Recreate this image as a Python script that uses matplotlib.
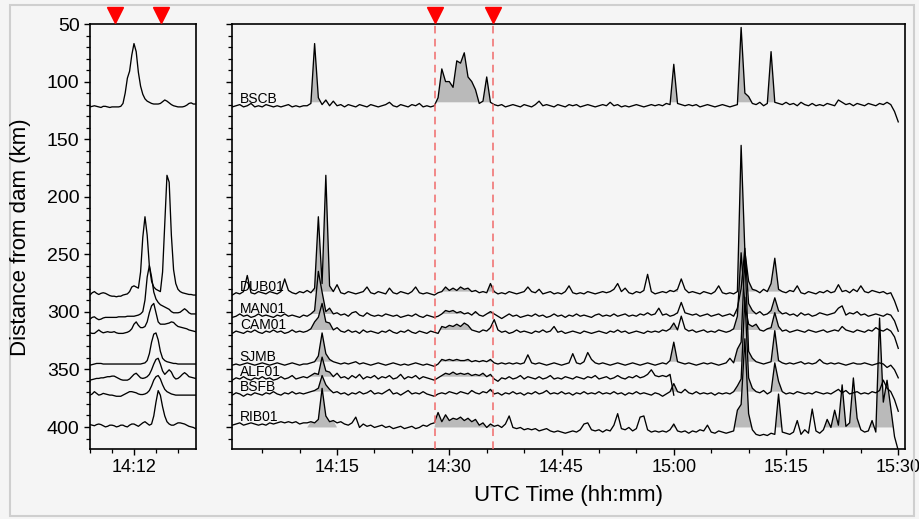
import numpy as np
import matplotlib
matplotlib.use("Agg")
import matplotlib.pyplot as plt
import matplotlib.transforms as mtransforms
from matplotlib.patches import Rectangle
from matplotlib.ticker import MultipleLocator, FixedLocator, FuncFormatter

plt.rcParams['font.family'] = ['Liberation Sans', 'DejaVu Sans']

# stations and their distance from the dam (km)
stations = ['BSCB', 'DUB01', 'MAN01', 'CAM01', 'SJMB', 'ALF01', 'BSFB', 'RIB01']
distances = [122.0, 285.4, 304.8, 318.7, 346.3, 359.3, 372.3, 398.4]

# envelope amplitude (km above the station line), every 0.5 min from 14:01
bscb = [0,1,2,0,1,3,0,1,0,2,1,0,1,0,1,2,0,1,0,1,
        1,3,55,8,2,6,1,5,1,2,0,2,1,0,2,1,0,2,1,0,
        1,2,4,1,0,2,1,0,2,1,3,0,1,0,1,8,33,22,22,17,
        40,38,47,26,22,15,3,5,26,4,2,1,2,0,1,2,1,0,2,1,
        0,2,5,1,2,1,0,2,1,0,2,1,2,0,1,2,1,0,1,2,
        1,4,1,2,0,1,0,1,2,1,0,1,2,1,2,1,3,2,37,3,
        2,1,2,1,2,0,1,2,1,0,1,2,1,0,1,2,69,12,9,3,
        2,4,1,3,48,4,3,2,4,2,3,1,4,2,1,3,1,2,1,3,
        2,1,6,4,2,3,1,3,2,1,3,2,1,3,2,4,2,-4,-13]
dub01 = [0,2,1,3,17,2,1,3,2,1,3,2,1,3,14,4,2,1,3,2,
         4,2,6,68,10,104,8,3,9,2,1,3,2,1,2,3,7,2,1,3,
         2,1,6,2,1,3,2,1,3,7,2,1,2,1,0,2,3,7,4,6,
         4,7,5,6,3,4,2,3,2,10,3,1,2,1,3,2,1,2,3,7,
         3,2,5,1,2,3,1,2,1,3,8,2,1,2,1,3,2,1,2,3,
         2,3,5,10,3,6,2,1,3,2,4,18,3,1,2,3,2,4,3,5,
         14,5,2,3,2,1,3,2,1,3,8,2,1,2,1,3,130,38,12,5,
         4,2,5,3,10,32,5,3,2,4,3,8,2,1,3,2,1,3,2,4,
         2,3,9,3,4,2,5,3,8,3,2,4,3,2,3,1,2,-5,-14]
man01 = [0,1,3,1,2,0,1,3,1,2,1,0,2,1,3,1,2,1,0,2,
         1,3,6,40,22,5,8,3,4,2,3,1,4,5,2,1,4,2,1,2,
         1,3,2,1,2,0,1,2,1,3,1,0,2,1,0,1,3,6,5,6,
         4,5,3,4,2,5,2,1,3,5,3,1,-1,1,3,1,2,0,1,2,
         1,3,1,2,0,1,3,1,2,0,2,1,3,1,2,1,0,2,3,1,
         2,1,3,1,2,3,1,2,1,3,2,4,2,3,8,2,3,1,2,4,
         13,4,3,2,3,1,2,3,1,2,3,1,2,3,1,8,25,60,12,6,
         3,5,2,3,6,17,6,3,4,2,3,1,4,2,3,1,2,4,3,2,
         3,4,8,10,2,4,3,5,2,3,1,2,3,2,1,3,2,-3,-12]
cam01 = [0,2,1,0,2,1,3,1,0,2,1,3,1,2,0,1,3,1,2,1,
         2,4,10,14,26,10,9,3,5,2,1,3,1,2,0,3,1,2,1,0,
         2,1,3,1,0,2,1,3,1,0,2,1,0,2,1,0,6,5,7,6,
         8,6,9,7,3,2,1,3,2,5,12,3,1,2,0,1,3,1,2,1,
         0,2,1,3,1,2,6,1,2,0,1,2,1,0,2,1,0,1,2,1,
         0,2,1,3,1,2,0,1,2,1,0,2,1,2,1,3,2,4,9,3,
         15,4,2,3,1,2,3,1,2,1,3,2,1,2,4,15,70,25,8,6,
         8,3,2,4,5,18,6,2,3,1,2,3,2,1,3,2,1,2,3,1,
         2,3,2,6,3,2,1,3,2,1,3,2,5,3,2,4,2,-3,-13]
sjmb = [0,1,0,1,2,1,0,1,2,1,0,1,2,1,0,1,2,1,0,1,
        1,2,3,8,28,10,5,3,2,1,2,1,2,3,1,2,1,0,1,2,
        1,0,1,2,1,0,1,0,1,2,1,0,1,0,-1,1,5,4,5,4,
        5,4,4,5,3,4,3,4,3,5,2,1,2,1,2,1,2,1,2,9,
        2,1,2,1,0,1,2,1,0,1,2,10,2,1,3,11,5,2,1,2,
        1,0,1,2,1,0,1,2,1,0,1,2,1,0,1,2,1,4,20,3,
        2,1,2,1,0,1,2,1,2,1,0,1,2,6,2,14,20,95,12,6,
        3,2,1,2,3,30,4,2,1,2,1,2,3,1,2,1,2,5,2,1,
        2,1,2,1,0,1,2,1,1,2,1,0,1,2,1,-2,0,-4,-11]
alf01 = [0,2,1,3,1,0,2,1,3,1,2,0,1,3,1,2,4,1,2,3,
         2,4,6,5,20,8,7,3,6,2,3,1,4,2,5,1,3,2,4,1,
         3,2,4,1,2,5,1,3,2,4,1,3,2,1,0,2,4,6,5,7,
         5,6,5,6,4,5,4,6,3,5,1,-1,2,1,3,1,2,4,1,3,
         2,1,3,1,2,4,1,2,1,3,2,1,3,2,1,3,2,4,1,2,
         3,1,2,4,2,1,3,2,4,2,3,5,9,4,3,4,3,5,-13]
bsfb = [0,2,1,-1,1,0,2,1,0,2,1,3,1,0,2,1,3,1,2,1,
        2,3,4,6,17,9,5,2,3,1,2,0,2,1,3,1,2,4,1,2,
        1,3,5,1,2,0,2,4,1,2,1,3,1,0,-1,1,2,1,3,2,
        1,3,2,1,4,2,1,3,2,5,1,2,0,2,1,3,1,2,0,2,
        1,3,1,2,4,1,2,1,3,1,2,0,2,1,3,1,2,1,3,1,
        2,1,3,1,2,0,2,1,3,1,2,1,0,2,1,-1,1,3,10,3,
        2,5,2,1,3,1,2,1,2,0,2,1,2,1,3,8,14,85,15,6,
        3,2,4,1,3,28,12,3,1,2,1,3,2,1,2,1,3,2,1,2,
        1,3,5,2,4,1,2,3,1,2,1,3,2,4,13,6,3,-4,-14]
rib01 = [0,1,2,0,1,2,1,0,1,0,2,1,2,3,2,3,2,3,1,2,
         2,3,2,5,32,8,3,4,2,3,1,0,2,7,-2,1,-1,0,-2,-1,
         0,-2,-1,-3,-2,-1,-3,-2,-1,-3,-2,0,-1,1,2,11,3,9,4,6,
         5,7,4,6,3,5,0,2,-2,1,-1,0,-2,1,8,-2,-3,-2,-4,-3,
         -4,-3,-5,-4,-3,-5,-6,-5,-6,-7,-6,-5,-6,-4,1,2,-4,-5,-4,-6,
         -4,-5,0,10,-3,-4,-2,-5,-3,7,8,-4,-6,-5,-6,-5,-6,-4,1,-5,
         -6,-5,-7,-5,-6,-4,-5,0,-6,-7,-5,-6,-7,-6,-5,13,18,75,10,-4,
         -8,-9,-8,-9,-7,-8,27,-6,-7,-8,-6,4,-8,-4,-7,14,-5,-7,-4,5,
         -2,13,0,35,-1,2,41,6,-4,-6,-5,4,-6,93,20,39,15,-10,-22]

# zoomed view 14:10 - 14:14.8, every 0.1 min
bscb_z = [0,0.5,1,0.5,0,-0.5,0.5,0.5,0,-0.5, 0,0,0,0,0.5,3,12,25,31,45,
          55,48,30,18,11,7,5,4,3,2.5, 2.5,2.5,3,4.5,6,5,3.5,2,1,0.5,
          0,0,0,0.5,1.5,3,3.5,2.5,2.5]
dub01_z = [0,2,3,1.5,0.5,1.5,2,1.5,0.5,-0.5, -1,-1,-1.5,-1,-1,0,0.5,1,3,7,
           8,7,6,20,50,68,52,25,12,7, 5,4,3,20,62,104,98,52,22,10,
           5,3,2,1.5,1,0.5,0.5,0,0]
man01_z = [-1.5,0,0.5,-1,-2,-1.5,-0.5,0,0,0, 0,0,0,0.5,0.5,0.5,0.5,1,1,1,
           1,1.5,2,3,5,15,35,45,35,22, 16,13,11,10,9,8,7,5,4,4,
           4,4.5,6,7.5,6,4,3,3,3]
cam01_z = [0.5,0,0,1.5,3,1.5,0.5,1,1.5,1, 1,1.5,0.5,0,0,0,0.5,1,2,4,
           8,10,7,5,5,6,10,18,24,26, 18,10,8,8,8,8.5,9,10,9.5,7.5,
           6,5.5,5,4.5,4,3,2.5,2,1.5]
sjmb_z = [0,0.5,1,1.5,1.5,1.5,1,1,1,1, 1,1,1,1,1,1,1,1,1,1,
          1,1,1,1,1.5,2,4,10,20,27, 28,22,12,6,4,3,2.5,2,1.5,1.5,
          1,1,1,1,1,1,1,1,1]
alf01_z = [0,0.5,1,1.5,1.5,2,2,2.5,3,3, 3.5,3.5,2.5,1.5,0.5,0,0,0,1,3,
           5,6,4,2,1.5,2,3,5,9,14, 18,19,14,8,5,7,9,7,3,1,
           1.5,3,5,6.5,5,3,2.5,2,1.5]
bsfb_z = [0,1,3,1.5,0,0.5,1.5,1,0.5,0, 0,-0.5,-1,-1,-1,0,1,2,3,3,
          2.5,2,1,0.5,0.5,1,2,4,8,13, 16,17,14,9,5,3,2,1,0.5,0,
          0,0,0,0,0,0,0,0,0]
rib01_z = [0.5,0,-0.5,0.5,1,0.5,-0.5,-1.5,-1,0, 0,-0.5,-1.5,-1,0,0,-1,-1.5,0,1,
           1,0,-1,0.5,2,3,1.5,0,1,8, 20,30,26,16,8,3,1,0,0,1,
           2,2,1.5,1,0,-1,-1.5,-2,-3]

full = dict(zip(stations, [bscb, dub01, man01, cam01, sjmb, alf01, bsfb, rib01]))
zoom = dict(zip(stations, [bscb_z, dub01_z, man01_z, cam01_z, sjmb_z, alf01_z, bsfb_z, rib01_z]))

# event windows (minutes after 14:00) where the envelope is shaded
events = [(11.5, 14.5), (28.5, 35.5), (59.5, 60.5), (68.0, 71.0), (72.5, 74.5)]
rib_events = [(80.0, 85.0), (86.5, 89.5)]
marks_zoom = [11.15, 13.25]
marks_full = [28.1, 35.8]

bg = '#f5f5f5'
fig = plt.figure(figsize=(9.19, 5.19), dpi=100, facecolor=bg)
fig.patches.append(Rectangle((10/919, 3/519), 904/919, 511/519, transform=fig.transFigure,
                             fill=False, edgecolor='#cfcfcf', lw=1.5))
axl = fig.add_axes([90/919, 1-449/519, 106/919, 425/519], facecolor=bg)
axr = fig.add_axes([232.3/919, 1-449/519, 672.7/919, 425/519], facecolor=bg)

hhmm = FuncFormatter(lambda m, pos: f"{14 + int(round(m)) // 60}:{int(round(m)) % 60:02d}")

# full panel
for name, base in zip(stations, distances):
    amp = np.array(full[name], dtype=float)
    t = 1.0 + 0.5 * np.arange(len(amp))
    axr.plot(t, base - amp, color='black', lw=0.95, zorder=3)
    lvl = 4 if name == 'BSCB' else (-2 if name == 'RIB01' else 3)
    wins = events + (rib_events if name == 'RIB01' else [])
    inwin = np.zeros(len(t), bool)
    for a, b in wins:
        inwin |= (t >= a) & (t <= b)
    axr.fill_between(t, base - lvl, base - amp, where=inwin & (amp > lvl),
                     interpolate=True, color='#bababa', lw=0, zorder=2)
    axr.text(2.0, base - 3.5, name, fontsize=10, ha='left', va='baseline', zorder=1)

for m in marks_full:
    axr.axvline(m, color='#f06a6a', lw=1.1, ls=(0, (5, 3.5)), zorder=4)

# zoom panel
for name, base in zip(stations, distances):
    amp = np.array(zoom[name], dtype=float)
    t = 10.0 + 0.1 * np.arange(len(amp))
    axl.plot(t, base - amp, color='black', lw=0.95, zorder=3)

for ax, marks in ((axl, marks_zoom), (axr, marks_full)):
    tr = mtransforms.blended_transform_factory(ax.transData, ax.transAxes)
    ax.plot(marks, [1.022] * len(marks), 'v', color='red', ms=11, mec='red',
            transform=tr, clip_on=False, zorder=5)

for ax in (axl, axr):
    ax.set_ylim(419.1, 50)
    ax.yaxis.set_major_locator(MultipleLocator(50))
    ax.yaxis.set_minor_locator(MultipleLocator(10))
    for s in ('top', 'right', 'left', 'bottom'):
        ax.spines[s].set_linewidth(1.2)
    ax.tick_params(which='major', direction='out', length=4.5, width=1.0, top=False, right=False)
    ax.tick_params(which='minor', direction='out', length=3, width=0.9, top=False, right=False)
    ax.xaxis.set_major_formatter(hhmm)

axl.set_xlim(10.0, 14.82)
axl.xaxis.set_major_locator(FixedLocator([12]))
axl.xaxis.set_minor_locator(MultipleLocator(1))
axl.tick_params(axis='y', labelsize=14, pad=3)
axl.tick_params(axis='x', labelsize=13, pad=3)

axr.set_xlim(1.0, 90.9)
axr.xaxis.set_major_locator(MultipleLocator(15))
axr.xaxis.set_minor_locator(MultipleLocator(5))
axr.tick_params(axis='y', labelleft=False)
axr.tick_params(axis='x', labelsize=13, pad=3)

fig.text(20.7/919, 1-237/519, 'Distance from dam (km)', rotation=90, fontsize=16,
         ha='center', va='center')
fig.text(568.6/919, 1-495/519, 'UTC Time (hh:mm)', fontsize=16, ha='center', va='center')

fig.savefig('out.png', dpi=100, facecolor=bg)
